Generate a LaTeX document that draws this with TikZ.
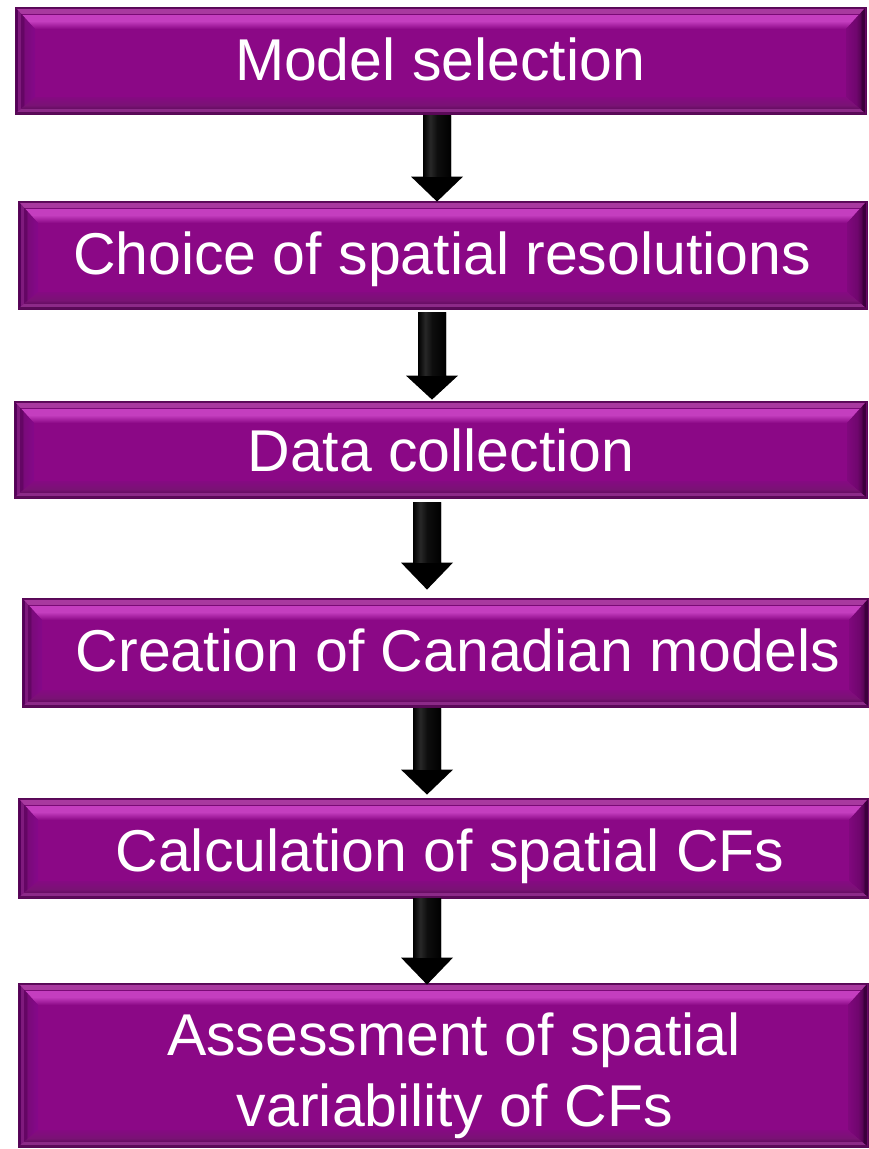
\documentclass[tikz,border=0pt]{standalone}
\usepackage{fontspec}
\setmainfont{Liberation Sans}
\usetikzlibrary{calc}

% colours of the bevelled step boxes
\definecolor{face}{RGB}{139,8,134}
\definecolor{edge}{RGB}{88,8,86}

% bevel shadings (TikZ maps a path onto the 25bp--75bp band)
\pgfdeclareverticalshading{bevtop}{100bp}{%
  color(0bp)=(face); color(25bp)=(face);
  color(43bp)=(rgb,255:red,196;green,62;blue,191);
  color(57bp)=(rgb,255:red,196;green,62;blue,191);
  color(58bp)=(rgb,255:red,122;green,10;blue,118);
  color(60bp)=(rgb,255:red,122;green,10;blue,118);
  color(61.4bp)=(rgb,255:red,168;green,57;blue,159);
  color(70.5bp)=(rgb,255:red,168;green,57;blue,159);
  color(71.6bp)=(rgb,255:red,94;green,10;blue,92);
  color(75bp)=(rgb,255:red,94;green,10;blue,92);
  color(100bp)=(rgb,255:red,94;green,10;blue,92)}
\pgfdeclarehorizontalshading{bevleft}{100bp}{%
  color(0bp)=(rgb,255:red,85;green,0;blue,90);
  color(25bp)=(rgb,255:red,85;green,0;blue,90);
  color(30bp)=(rgb,255:red,85;green,0;blue,90);
  color(32.5bp)=(rgb,255:red,127;green,26;blue,125);
  color(37.5bp)=(rgb,255:red,127;green,26;blue,125);
  color(40bp)=(rgb,255:red,100;green,6;blue,100);
  color(45bp)=(rgb,255:red,100;green,6;blue,100);
  color(50bp)=(rgb,255:red,122;green,10;blue,122);
  color(75bp)=(rgb,255:red,133;green,8;blue,138);
  color(100bp)=(rgb,255:red,133;green,8;blue,138)}
\pgfdeclarehorizontalshading{bevright}{100bp}{%
  color(0bp)=(rgb,255:red,128;green,8;blue,125);
  color(25bp)=(rgb,255:red,128;green,8;blue,125);
  color(50bp)=(rgb,255:red,112;green,6;blue,110);
  color(60bp)=(rgb,255:red,90;green,4;blue,88);
  color(65bp)=(rgb,255:red,60;green,0;blue,60);
  color(70bp)=(rgb,255:red,60;green,0;blue,60);
  color(72.5bp)=(rgb,255:red,106;green,10;blue,104);
  color(75bp)=(rgb,255:red,106;green,10;blue,104);
  color(100bp)=(rgb,255:red,106;green,10;blue,104)}
\pgfdeclareverticalshading{bevbot}{100bp}{%
  color(0bp)=(rgb,255:red,90;green,10;blue,88);
  color(25bp)=(rgb,255:red,90;green,10;blue,88);
  color(30.9bp)=(rgb,255:red,90;green,10;blue,88);
  color(33.8bp)=(rgb,255:red,140;green,42;blue,136);
  color(39.7bp)=(rgb,255:red,140;green,42;blue,136);
  color(42.6bp)=(rgb,255:red,106;green,14;blue,102);
  color(51.5bp)=(rgb,255:red,122;green,18;blue,117);
  color(75bp)=(rgb,255:red,133;green,10;blue,130);
  color(100bp)=(rgb,255:red,133;green,10;blue,130)}
% soft sheen on the arrow shafts
\pgfdeclarehorizontalshading{shaftshine}{100bp}{%
  color(0bp)=(black); color(25bp)=(black);
  color(38bp)=(rgb,255:red,40;green,40;blue,40);
  color(50bp)=(rgb,255:red,14;green,14;blue,14);
  color(75bp)=(black); color(100bp)=(black)}

\tikzset{
  stepbox/.style={rectangle, inner sep=0pt, fill=face, draw=edge, line width=0.8pt,
    path picture={
      \coordinate (p1) at (path picture bounding box.north west);
      \coordinate (p2) at (path picture bounding box.north east);
      \coordinate (p3) at (path picture bounding box.south east);
      \coordinate (p4) at (path picture bounding box.south west);
      \coordinate (q1) at ([xshift=20pt,yshift=-22pt]p1);
      \coordinate (q2) at ([xshift=-20pt,yshift=-22pt]p2);
      \coordinate (q3) at ([xshift=-20pt,yshift=17pt]p3);
      \coordinate (q4) at ([xshift=20pt,yshift=17pt]p4);
      \shade[shading=bevtop] (p1) -- (p2) -- (q2) -- (q1) -- cycle;
      \shade[shading=bevleft] (p1) -- (q1) -- (q4) -- (p4) -- cycle;
      \shade[shading=bevright] (p2) -- (p3) -- (q3) -- (q2) -- cycle;
      \shade[shading=bevbot] (p4) -- (q4) -- (q3) -- (p3) -- cycle;
    }},
  steptext/.style={anchor=base, text=white, inner sep=0pt,
    font=\fontsize{59}{71}\selectfont},
  arrowfill/.style={fill=black}
}

% block arrow: from node, to node, column, start shift, end shift, head length
\newcommand{\flowarrow}[6]{%
  \coordinate (fs) at ($(#1.south -| #3)+(0,#4)$);
  \coordinate (fe) at ($(#2.north -| #3)+(0,#5)$);
  \fill[arrowfill] ($(fs)+(-14,0)$) -- ($(fs)+(14,0)$) -- ($(fe)+(14,-#6)$)
    -- ($(fe)+(26,-#6)$) -- (fe) -- ($(fe)+(-26,-#6)$) -- ($(fe)+(-14,-#6)$) -- cycle;
  \shade[shading=shaftshine] ($(fs)+(-14,0)$) rectangle ($(fe)+(14,-#6)$);
}

\begin{document}
\begin{tikzpicture}[x=1pt,y=-1pt]
  \fill[white] (0,0) rectangle (869,1149);
  \useasboundingbox (0,0) rectangle (869,1149);

  % the six steps
  \node[stepbox, minimum width=851pt, minimum height=107pt] (b1) at (440.5,60.5) {};
  \node[stepbox, minimum width=849pt, minimum height=108pt] (b2) at (442.5,255) {};
  \node[stepbox, minimum width=853pt, minimum height=97pt]  (b3) at (440.5,449.5) {};
  \node[stepbox, minimum width=847pt, minimum height=109pt] (b4) at (445.5,652.5) {};
  \node[stepbox, minimum width=851pt, minimum height=100pt] (b5) at (443.5,848) {};
  \node[stepbox, minimum width=850pt, minimum height=164pt] (b6) at (443,1065) {};

  \node[steptext] (t1) at (440,80) {Model selection};
  \node[steptext] (t2) at (442,274.5) {Choice of spatial resolutions};
  \node[steptext] (t3) at (441,471.5) {Data collection};
  \node[steptext] (t4) at (458,671) {Creation of Canadian models};
  \node[steptext] (t5) at (450,871) {Calculation of spatial CFs};
  \node[steptext] (t6a) at (454,1055) {Assessment of spatial};
  \node[steptext] (t6b) at (455,1126) {variability of CFs};

  % arrow columns
  \coordinate (c1) at (437,0);
  \coordinate (c2) at (432,0);
  \coordinate (c3) at (427,0);

  \flowarrow{b1}{b2}{c1}{1}{1}{25}
  \flowarrow{b2}{b3}{c2}{3}{-1}{24}
  \flowarrow{b3}{b4}{c3}{4}{-8}{27}
  \flowarrow{b4}{b5}{c3}{1}{-3}{25}
  \flowarrow{b5}{b6}{c3}{0}{2}{27}
\end{tikzpicture}
\end{document}
